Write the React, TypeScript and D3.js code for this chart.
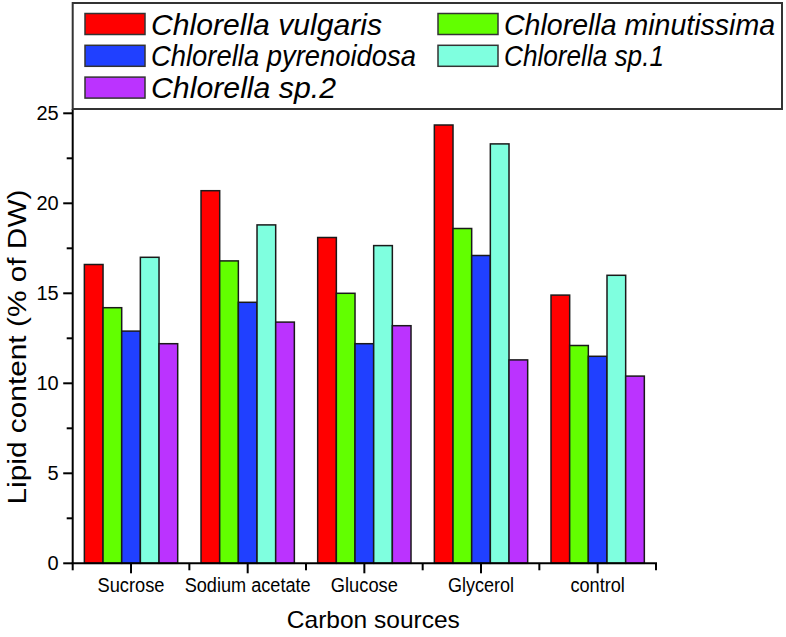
import React from 'react';
import * as d3 from 'd3';

// carbon sources on the x axis
const carbonSources = ['Sucrose', 'Sodium acetate', 'Glucose', 'Glycerol', 'control'];
const species = ['Chlorella vulgaris', 'Chlorella minutissima', 'Chlorella pyrenoidosa', 'Chlorella sp.1', 'Chlorella sp.2'];
const speciesColors = ['#ff0000', '#62ff00', '#2040ff', '#7fffdf', '#bb33ff'];

// lipid content (% of DW), one array per species, in carbonSources order
const vulgaris = [16.6, 20.7, 18.1, 24.35, 14.9];
const minutissima = [14.2, 16.8, 15.0, 18.6, 12.1];
const pyrenoidosa = [12.9, 14.5, 12.2, 17.1, 11.5];
const sp1 = [17.0, 18.8, 17.65, 23.3, 16.0];
const sp2 = [12.2, 13.4, 13.2, 11.3, 10.4];
const seriesValues = [vulgaris, minutissima, pyrenoidosa, sp1, sp2];

const yTicks = [0, 5, 10, 15, 20, 25];
const yMinorTicks = [2.5, 7.5, 12.5, 17.5, 22.5];

// the source uses a narrow face, so text is squeezed to the measured widths
const xLabelWidths = [67, 126, 67, 66, 54.5];
const legendWidths = [231, 271, 265, 160, 185];

const W = 786;
const H = 637;
const left = 72.7;
const right = 656;
const bottom = 563.3;
const plotTop = 109;

const font = 'Liberation Sans, Arial, Helvetica, sans-serif';

export default function App() {
  const x0 = d3.scaleBand<string>()
    .domain(carbonSources)
    .range([left, right])
    .paddingInner(0.2)
    .paddingOuter(0.1);
  const x1 = d3.scaleBand<number>()
    .domain(d3.range(species.length))
    .range([0, x0.bandwidth()]);
  const y = d3.scaleLinear().domain([0, 25]).range([bottom, bottom - 450]);

  const step = x0.step();
  const boundaries = d3.range(carbonSources.length + 1).map(i => left + i * step);

  return (
    <svg width={W} height={H} style={{ position: 'absolute', left: 0, top: 0, background: '#fff' }}>
      {/* bars */}
      {carbonSources.map((c, ci) => (
        <g key={c} transform={`translate(${x0(c)},0)`}>
          {seriesValues.map((vals, si) => (
            <rect
              key={si}
              x={x1(si)}
              y={y(vals[ci])}
              width={x1.bandwidth()}
              height={y(0) - y(vals[ci])}
              fill={speciesColors[si]}
              stroke="#1a1a1a"
              strokeWidth={1.5}
            />
          ))}
        </g>
      ))}

      {/* y axis */}
      <line x1={left} x2={left} y1={bottom} y2={plotTop} stroke="#000" strokeWidth={2} />
      {yTicks.map(t => (
        <g key={t}>
          <line x1={left - 9.5} x2={left} y1={y(t)} y2={y(t)} stroke="#000" strokeWidth={2} />
          <text x={left - 14} y={y(t) + 7} textAnchor="end" fontFamily={font} fontSize={20} fill="#000">{t}</text>
        </g>
      ))}
      {yMinorTicks.map(t => (
        <line key={t} x1={left - 6} x2={left} y1={y(t)} y2={y(t)} stroke="#000" strokeWidth={2} />
      ))}

      {/* x axis */}
      <line x1={left - 1} x2={right + 1} y1={bottom} y2={bottom} stroke="#000" strokeWidth={2} />
      {boundaries.map((b, i) => (
        <line key={i} x1={b} x2={b} y1={bottom} y2={bottom + 7} stroke="#000" strokeWidth={2} />
      ))}
      {carbonSources.map((c, ci) => {
        const cx = (x0(c) ?? 0) + x0.bandwidth() / 2;
        return (
          <g key={c}>
            <line x1={cx} x2={cx} y1={bottom} y2={bottom + 10} stroke="#000" strokeWidth={2} />
            <text x={cx} y={592} textAnchor="middle" fontFamily={font} fontSize={19.5}
              textLength={xLabelWidths[ci]} lengthAdjust="spacingAndGlyphs" fill="#000">{c}</text>
          </g>
        );
      })}

      {/* axis titles */}
      <text x={(left + right) / 2 + 9} y={628} textAnchor="middle" fontFamily={font} fontSize={24}
        textLength={173} lengthAdjust="spacingAndGlyphs" fill="#000">Carbon sources</text>
      <text transform={`translate(26,347) rotate(-90)`} textAnchor="middle" fontFamily={font} fontSize={26}
        textLength={315} lengthAdjust="spacingAndGlyphs" fill="#000">Lipid content (% of DW)</text>

      {/* legend */}
      <rect x={left} y={3} width={782 - left} height={plotTop - 3} fill="#fff" stroke="#333" strokeWidth={2} />
      {species.map((s, i) => {
        const col = i % 2;
        const row = Math.floor(i / 2);
        const sx = col === 0 ? 85 : 438;
        const sy = 13.5 + row * 31.8;
        return (
          <g key={s}>
            <rect x={sx} y={sy} width={60} height={21} fill={speciesColors[i]} stroke="#333" strokeWidth={1.5} />
            <text x={sx + 66} y={sy + 21} fontFamily={font} fontStyle="italic" fontSize={29.5}
              textLength={legendWidths[i]} lengthAdjust="spacingAndGlyphs" fill="#000">{s}</text>
          </g>
        );
      })}
    </svg>
  );
}
